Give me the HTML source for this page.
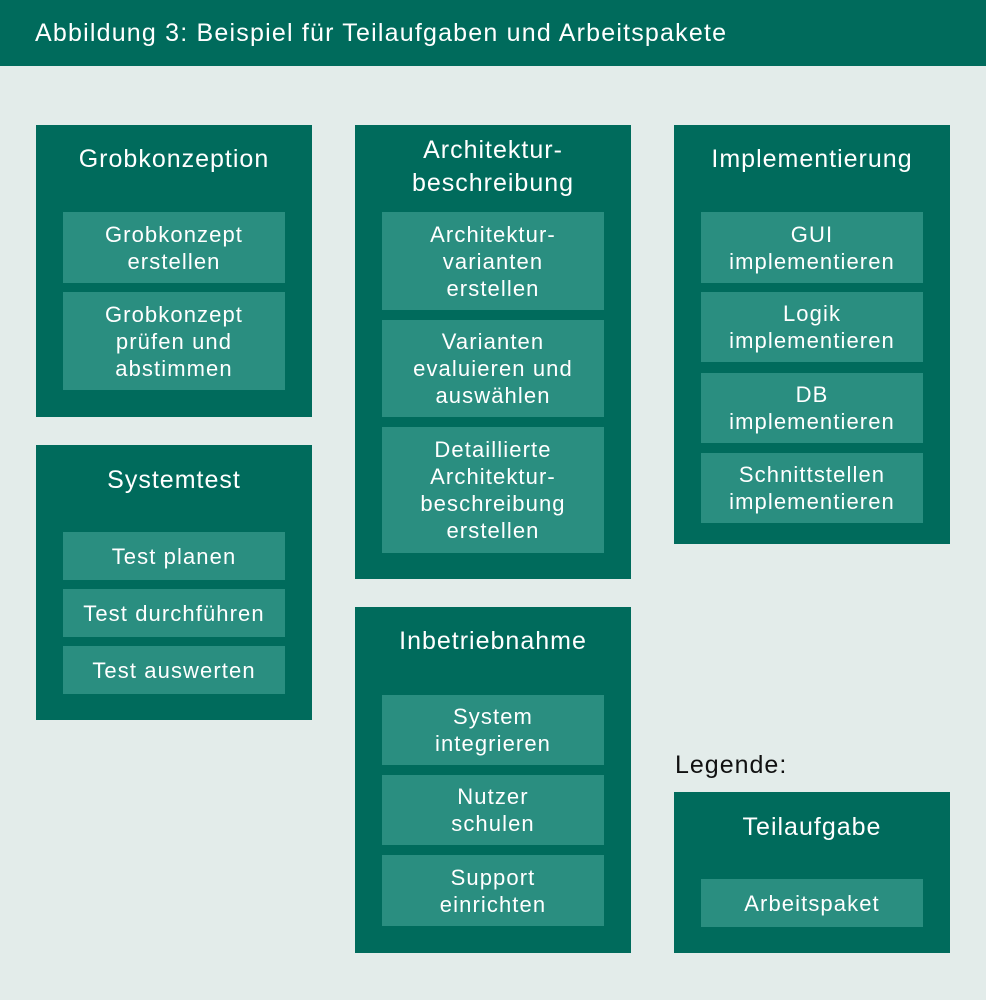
<!DOCTYPE html>
<html><head><meta charset="utf-8"><style>
body{margin:0;width:986px;height:1000px;background:#e3ecea;position:relative;overflow:hidden;font-family:"Liberation Sans",sans-serif;}
.hdr{position:absolute;left:0;top:0;width:986px;height:66px;background:#006b5c;color:#fff;font-size:25px;line-height:66px;letter-spacing:1.2px;}
.hdr span{position:absolute;left:35px;top:0;}
.box{position:absolute;background:#006b5c;}
.t{position:absolute;left:0;width:100%;text-align:center;color:#fff;font-size:25px;line-height:27px;letter-spacing:1px;}
.wp{position:absolute;left:27px;width:222px;background:#2a8e80;color:#fff;font-size:22px;line-height:27px;text-align:center;display:flex;align-items:center;justify-content:center;letter-spacing:1.1px;}
.leg{position:absolute;left:675px;top:751px;font-size:25px;color:#111;letter-spacing:1px;}
</style></head><body>
<div class="hdr"><span>Abbildung 3: Beispiel für Teilaufgaben und Arbeitspakete</span></div>

<div class="box" style="left:36px;top:125px;width:276px;height:292px">
<div class="t" style="top:21px">Grobkonzeption</div>
<div class="wp" style="top:87px;height:71px">Grobkonzept<br>erstellen</div>
<div class="wp" style="top:167px;height:98px">Grobkonzept<br>prüfen und<br>abstimmen</div>
</div>

<div class="box" style="left:36px;top:445px;width:276px;height:275px">
<div class="t" style="top:22px">Systemtest</div>
<div class="wp" style="top:87px;height:48px">Test planen</div>
<div class="wp" style="top:144px;height:48px">Test durchführen</div>
<div class="wp" style="top:201px;height:48px">Test auswerten</div>
</div>

<div class="box" style="left:355px;top:125px;width:276px;height:454px">
<div class="t" style="top:9px;line-height:33px">Architektur-<br>beschreibung</div>
<div class="wp" style="top:87px;height:98px">Architektur-<br>varianten<br>erstellen</div>
<div class="wp" style="top:195px;height:97px">Varianten<br>evaluieren und<br>auswählen</div>
<div class="wp" style="top:302px;height:126px">Detaillierte<br>Architektur-<br>beschreibung<br>erstellen</div>
</div>

<div class="box" style="left:355px;top:607px;width:276px;height:346px">
<div class="t" style="top:21px">Inbetriebnahme</div>
<div class="wp" style="top:88px;height:70px">System<br>integrieren</div>
<div class="wp" style="top:168px;height:70px">Nutzer<br>schulen</div>
<div class="wp" style="top:248px;height:71px">Support<br>einrichten</div>
</div>

<div class="box" style="left:674px;top:125px;width:276px;height:419px">
<div class="t" style="top:21px">Implementierung</div>
<div class="wp" style="top:87px;height:71px">GUI<br>implementieren</div>
<div class="wp" style="top:167px;height:70px">Logik<br>implementieren</div>
<div class="wp" style="top:248px;height:70px">DB<br>implementieren</div>
<div class="wp" style="top:328px;height:70px">Schnittstellen<br>implementieren</div>
</div>

<div class="leg">Legende:</div>
<div class="box" style="left:674px;top:792px;width:276px;height:161px">
<div class="t" style="top:22px">Teilaufgabe</div>
<div class="wp" style="top:87px;height:48px">Arbeitspaket</div>
</div>
</body></html>
